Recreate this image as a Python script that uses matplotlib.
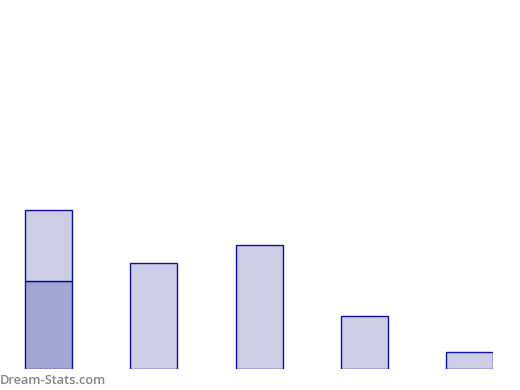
import matplotlib
matplotlib.use("Agg")
import matplotlib.pyplot as plt

categories = ["A", "B", "C", "D", "E"]
base_values = [5.53, 6.67, 7.80, 3.33, 1.07]
stack_values = [4.47, 0, 0, 0, 0]

light = "#cdcde6"
dark = "#a3a5d2"
edge = "#10109a"

fig = plt.figure(figsize=(5.2, 3.9), dpi=100)
ax = fig.add_axes([0, 21 / 390, 493 / 520, 369 / 390])
x = list(range(len(categories)))
w = 0.4466
base_colors = [dark] + [light] * (len(categories) - 1)
ax.bar(x, base_values, width=w, color=base_colors, edgecolor=edge, linewidth=1.0)
ax.bar(x[:1], stack_values[:1], bottom=base_values[:1], width=w, color=light,
       edgecolor=edge, linewidth=1.0)
ax.set_xlim(-0.461, 4.2233)
ax.set_ylim(0, 369 / 15.9)
for s in ax.spines.values():
    s.set_visible(False)
ax.set_xticks([])
ax.set_yticks([])

fig.text(0.0, 1 - 380 / 390, "Dream-Stats.com", family=["Open Sans", "DejaVu Sans"],
         fontsize=9.2, color="#858585", va="center", ha="left", weight="semibold")
fig.savefig("out.png", dpi=100)
